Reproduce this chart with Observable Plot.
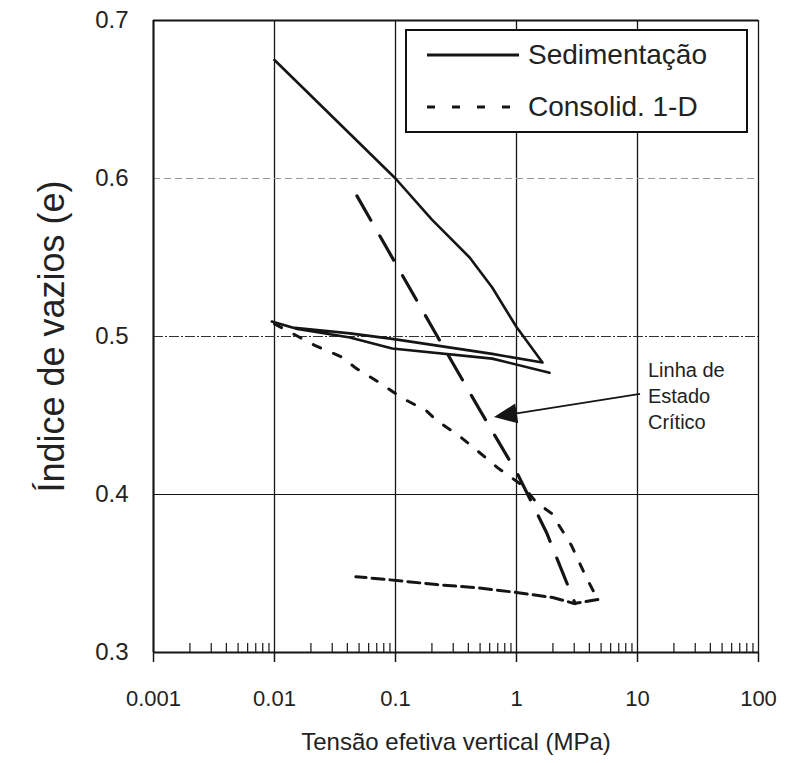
<!DOCTYPE html>
<html>
<head>
<meta charset="utf-8">
<script src="https://cdn.jsdelivr.net/npm/d3@7"></script>
<script src="https://cdn.jsdelivr.net/npm/@observablehq/plot@0.6"></script>
<style>
  body { margin: 0; background: #fff; }
  #wrap { position: relative; width: 787px; height: 763px; font-family: "Liberation Sans", Arial, Helvetica, sans-serif; color: #222; }
  #legend { position: absolute; left: 405px; top: 29px; width: 339px; height: 100px; border: 2px solid #111; background: #fff; }
  #legend svg { position: absolute; left: 0; top: 0; }
  .lg { position: absolute; left: 121px; height: 34px; line-height: 34px; font-size: 28px; white-space: nowrap; color: #222; }
</style>
</head>
<body>
<div id="wrap"></div>
<script>
// ---- axis ticks ----
const xMajor = [0.001, 0.01, 0.1, 1, 10, 100];
const xMajorLabels = ["0.001", "0.01", "0.1", "1", "10", "100"];
const xMinor = [0.001, 0.01, 0.1, 1, 10].flatMap(d => [2, 3, 4, 5, 6, 7, 8, 9].map(k => k * d));
const yTicks = [0.3, 0.4, 0.5, 0.6, 0.7];
const yTickLabels = ["0.3", "0.4", "0.5", "0.6", "0.7"];

// ---- series ----
const seriesNames = ["Sedimentação", "Consolid. 1-D"];

// Sedimentação: loading, unloading, reloading
const sedStress = [0.01, 0.1, 0.2, 0.41, 0.63, 1.0, 1.64, 0.63, 0.094, 0.042, 0.014, 0.0095, 0.015, 0.042, 0.094, 0.63, 1.875];
const sedVoid   = [0.675, 0.600, 0.574, 0.550, 0.531, 0.506, 0.4835, 0.489, 0.4985, 0.502, 0.5057, 0.5095, 0.505, 0.4994, 0.4924, 0.486, 0.477];

// Consolidação 1-D: loading
const conLoadStress = [0.01, 0.022, 0.036, 0.047, 0.073, 0.114, 0.18, 0.218, 0.337, 0.494, 0.696, 1.12, 1.46, 1.95, 2.85, 3.8, 4.7];
const conLoadVoid   = [0.508, 0.494, 0.487, 0.480, 0.471, 0.461, 0.453, 0.447, 0.437, 0.4266, 0.417, 0.4057, 0.395, 0.388, 0.3677, 0.347, 0.3335];
// Consolidação 1-D: unloading
const conUnloadStress = [4.7, 3.0, 1.99, 1.0, 0.466, 0.218, 0.084, 0.047];
const conUnloadVoid   = [0.3335, 0.331, 0.3348, 0.338, 0.341, 0.343, 0.3462, 0.348];

// Linha de Estado Crítico
const critStress = [0.048, 0.19, 0.476, 1.02, 1.77, 3.05];
const critVoid   = [0.589, 0.509, 0.456, 0.413, 0.376, 0.331];

// annotation
const annText = "Linha de\nEstado\nCrítico";
const annAt = {x: 12.2, y: 0.4633};
const arrowFrom = {x: 10.6, y: 0.4633};
const arrowTo = {x: 0.658, y: 0.4487};

const ink = "#151515";
const font = "Liberation Sans, Arial, Helvetica, sans-serif";

function arrowMark(index, scales) {
  const x0 = scales.x(arrowFrom.x), y0 = scales.y(arrowFrom.y);
  const x1 = scales.x(arrowTo.x), y1 = scales.y(arrowTo.y);
  const a = Math.atan2(y1 - y0, x1 - x0);
  const len = 23, half = 10;
  const bx = x1 - len * Math.cos(a), by = y1 - len * Math.sin(a);
  const g = d3.create("svg:g");
  g.append("line").attr("x1", x0).attr("y1", y0).attr("x2", bx).attr("y2", by)
    .attr("stroke", ink).attr("stroke-width", 1.8);
  g.append("path")
    .attr("d", `M${x1},${y1}L${bx - half * Math.sin(a)},${by + half * Math.cos(a)}L${bx + half * Math.sin(a)},${by - half * Math.cos(a)}Z`)
    .attr("fill", ink);
  return g.node();
}

const chart = Plot.plot({
  width: 787,
  height: 763,
  marginLeft: 153,
  marginRight: 29,
  marginTop: 20,
  marginBottom: 111,
  style: {fontFamily: font, background: "white", color: "#222", overflow: "visible"},
  x: {type: "log", domain: [0.001, 100]},
  y: {domain: [0.3, 0.7]},
  marks: [
    // grid
    Plot.gridX(xMajor, {stroke: ink, strokeOpacity: 1, strokeWidth: 1.3}),
    Plot.gridY([0.4], {stroke: ink, strokeOpacity: 1, strokeWidth: 1.2}),
    Plot.gridY([0.5], {stroke: "#333", strokeOpacity: 1, strokeWidth: 1.1, strokeDasharray: "10,2,2,2"}),
    Plot.gridY([0.6], {stroke: "#999", strokeOpacity: 1, strokeWidth: 1, strokeDasharray: "7,4"}),
    Plot.ruleY([0.7], {stroke: ink, strokeWidth: 2}),
    Plot.ruleY([0.3], {stroke: ink, strokeWidth: 2}),
    Plot.ruleX([0.001], {stroke: ink, strokeWidth: 2}),
    // axes
    Plot.axisX(xMajor, {tickSize: 10, tickPadding: 28, fontSize: 22, tickFormat: d => xMajorLabels[xMajor.indexOf(d)], label: null, stroke: ink, strokeWidth: 1.5}),
    Plot.axisX(xMinor, {tickSize: 9, dy: -9, tickFormat: () => "", label: null, stroke: ink, strokeWidth: 1.2}),
    Plot.axisY(yTicks, {tickSize: 0, tickPadding: 25, fontSize: 24, tickFormat: d => yTickLabels[yTicks.indexOf(d)], label: null}),
    Plot.text(["Índice de vazios (e)"], {frameAnchor: "left", textAnchor: "middle", dx: -101, rotate: -90, fontSize: 36, fill: "#222"}),
    Plot.text(["Tensão efetiva vertical (MPa)"], {frameAnchor: "bottom", textAnchor: "middle", dy: 97, fontSize: 24, fill: "#222"}),
    // data
    Plot.line({length: critStress.length}, {x: critStress, y: critVoid, stroke: ink, strokeWidth: 3.2, strokeDasharray: "28,18"}),
    Plot.line({length: conLoadStress.length}, {x: conLoadStress, y: conLoadVoid, stroke: ink, strokeWidth: 3, strokeDasharray: "8,14"}),
    Plot.line({length: conUnloadStress.length}, {x: conUnloadStress, y: conUnloadVoid, stroke: ink, strokeWidth: 3, strokeDasharray: "12,6"}),
    Plot.line({length: sedStress.length}, {x: sedStress, y: sedVoid, stroke: ink, strokeWidth: 2.6, curve: "linear"}),
    // annotation
    arrowMark,
    Plot.text([annText], {x: () => annAt.x, y: () => annAt.y, textAnchor: "start", lineAnchor: "middle", lineHeight: 1.3, fontSize: 20, fill: "#222"})
  ]
});

const wrap = document.getElementById("wrap");
wrap.appendChild(chart);

// legend (overlay on the chart, as in the original figure)
const legend = document.createElement("div");
legend.id = "legend";
const lsvg = d3.create("svg").attr("width", 339).attr("height", 100);
lsvg.append("line").attr("x1", 20).attr("x2", 112).attr("y1", 24).attr("y2", 24).attr("stroke", ink).attr("stroke-width", 3);
lsvg.append("line").attr("x1", 20).attr("x2", 112).attr("y1", 76).attr("y2", 76).attr("stroke", ink).attr("stroke-width", 3).attr("stroke-dasharray", "8,17");
legend.appendChild(lsvg.node());
seriesNames.forEach((name, i) => {
  const s = document.createElement("div");
  s.className = "lg";
  s.style.top = (i === 0 ? 7 : 59) + "px";
  s.textContent = name;
  legend.appendChild(s);
});
wrap.appendChild(legend);
</script>
</body>
</html>
